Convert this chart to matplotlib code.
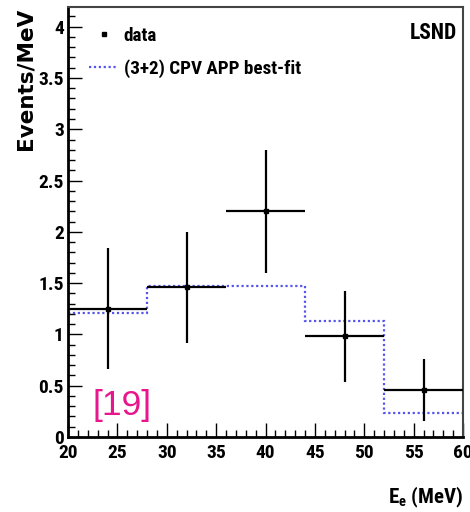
import matplotlib
matplotlib.use("Agg")
import matplotlib.pyplot as plt
from matplotlib.ticker import MultipleLocator
from matplotlib import font_manager
from matplotlib.lines import Line2D
import numpy as np

bin_edges = [20, 28, 36, 44, 52, 60]
data_vals = [1.25, 1.46, 2.20, 0.98, 0.46]
data_errs = [0.59, 0.54, 0.60, 0.44, 0.30]
fit_vals = [1.21, 1.47, 1.47, 1.13, 0.23]

# pick a bold condensed font if one exists, else Liberation Sans Bold
cond_file = None
for f in font_manager.fontManager.ttflist:
    fn = f.fname.lower()
    if ("narrow" in fn or "condensed" in fn) and "bold" in fn and "oblique" not in fn and "italic" not in fn:
        cond_file = f.fname
        if "liberation" in fn:
            break

def bfont(size):
    if cond_file:
        return font_manager.FontProperties(fname=cond_file, size=size)
    return font_manager.FontProperties(family="Liberation Sans", weight="bold", size=size)

fig = plt.figure(figsize=(4.70, 5.12), dpi=100)
ax = fig.add_axes([0.1447, 0.1465, 0.9853 - 0.1447, 0.986 - 0.1465])

edges = np.array(bin_edges, dtype=float)
centers = 0.5 * (edges[:-1] + edges[1:])
half = 0.5 * (edges[1:] - edges[:-1])

ax.stairs(fit_vals, edges, color="#5555ee", linestyle=(0, (1, 1.2)), linewidth=1.6,
          baseline=None, zorder=2)
ax.errorbar(centers, data_vals, xerr=half, yerr=data_errs, fmt="s", color="black",
            markersize=2.5, elinewidth=1.6, capsize=0, zorder=3)

ax.set_xlim(20, 60)
ax.set_ylim(0, 4.19)

ax.xaxis.set_major_locator(MultipleLocator(5))
ax.xaxis.set_minor_locator(MultipleLocator(1))
ax.yaxis.set_major_locator(MultipleLocator(0.5))
ax.yaxis.set_minor_locator(MultipleLocator(0.1))
ax.yaxis.set_major_formatter(plt.FuncFormatter(lambda v, p: f"{v:g}"))

ax.tick_params(axis="x", which="major", direction="in", length=10, width=1.0,
               top=False, right=False, pad=5)
ax.tick_params(axis="y", which="major", direction="in", length=10, width=1.0,
               top=False, right=False, pad=3)
ax.tick_params(axis="both", which="minor", direction="in", length=5, width=1.0,
               top=False, right=False)
tfp = bfont(14)
for lab in ax.get_xticklabels() + ax.get_yticklabels():
    lab.set_fontproperties(tfp)

for side in ["left", "bottom"]:
    ax.spines[side].set_linewidth(2.0)
    ax.spines[side].set_color("black")
for side in ["top", "right"]:
    ax.spines[side].set_linewidth(1.5)
    ax.spines[side].set_color("#444444")

fig.text(0.054, 0.985, "Events/MeV", rotation=90, ha="center", va="top",
         fontproperties=font_manager.FontProperties(family="DejaVu Sans", weight="bold", size=15.5))
fig.text(0.985, 0.004, r"E$_\mathregular{e}$ (MeV)", ha="right", va="bottom",
         fontproperties=bfont(15))

handles = [Line2D([], [], marker="s", color="black", linestyle="none", markersize=2.5),
           Line2D([], [], color="#5555ee", linestyle=(0, (1, 1.2)), linewidth=1.6)]
ax.legend(handles, ["data", "(3+2) CPV APP best-fit"], loc="upper left",
          bbox_to_anchor=(0.02, 0.985), frameon=False, prop=bfont(13.8),
          handlelength=1.5, handletextpad=0.3, labelspacing=0.75, borderaxespad=0.3)

ax.text(0.985, 0.965, "LSND", transform=ax.transAxes, ha="right", va="top",
        fontproperties=bfont(15.5))
ax.text(0.063, 0.035, "[19]", transform=ax.transAxes, ha="left", va="bottom",
        fontsize=25.5, color="#e8168c", family=["Liberation Sans", "DejaVu Sans"])

fig.savefig("out.png", dpi=100)
